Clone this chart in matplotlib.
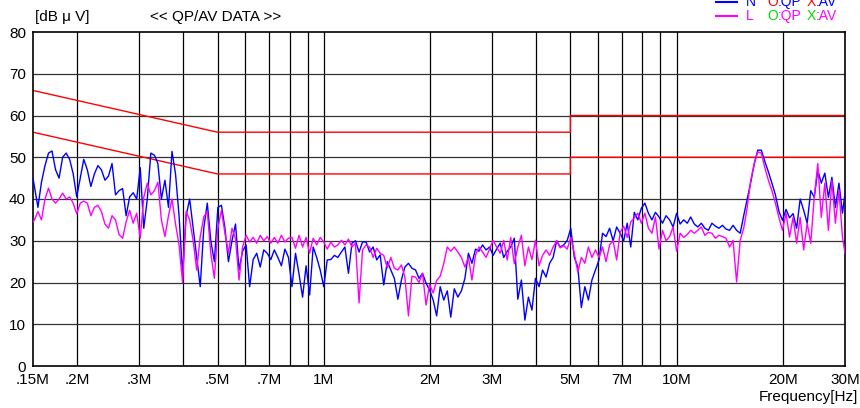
import matplotlib
matplotlib.use("Agg")
import matplotlib.pyplot as plt

plt.rcParams['font.family'] = ['Liberation Sans', 'DejaVu Sans']

# sweep frequencies [MHz]
freq = [0.150, 0.1514, 0.1549, 0.1585, 0.1622, 0.1660, 0.1698, 0.1738, 0.1778, 0.1820, 0.1862,
        0.1905, 0.1950, 0.1995, 0.2042, 0.2089, 0.2138, 0.2188, 0.2239, 0.2291, 0.2344,
        0.2399, 0.2455, 0.2512, 0.2570, 0.2630, 0.2692, 0.2754, 0.2818, 0.2884, 0.2951,
        0.3020, 0.3090, 0.3162, 0.3236, 0.3311, 0.3388, 0.3467, 0.3548, 0.3631, 0.3715,
        0.3802, 0.3890, 0.3981, 0.4074, 0.4169, 0.4266, 0.4365, 0.4467, 0.4571, 0.4677,
        0.4786, 0.4898, 0.5012, 0.5129, 0.5248, 0.5370, 0.5495, 0.5623, 0.5754, 0.5888,
        0.6026, 0.6166, 0.6310, 0.6457, 0.6607, 0.6761, 0.6918, 0.7079, 0.7244, 0.7413,
        0.7586, 0.7762, 0.7943, 0.8128, 0.8318, 0.8511, 0.8710, 0.8913, 0.9120, 0.9333,
        0.9550, 0.9772, 1.000, 1.023, 1.047, 1.072, 1.096, 1.122, 1.148, 1.175,
        1.202, 1.230, 1.259, 1.288, 1.318, 1.349, 1.380, 1.413, 1.445, 1.479,
        1.514, 1.549, 1.585, 1.622, 1.660, 1.698, 1.738, 1.778, 1.820, 1.862,
        1.905, 1.950, 1.995, 2.042, 2.089, 2.138, 2.188, 2.239, 2.291, 2.344,
        2.399, 2.455, 2.512, 2.570, 2.630, 2.692, 2.754, 2.818, 2.884, 2.951,
        3.020, 3.090, 3.162, 3.236, 3.311, 3.388, 3.467, 3.548, 3.631, 3.715,
        3.802, 3.890, 3.981, 4.074, 4.169, 4.266, 4.365, 4.467, 4.571, 4.677,
        4.786, 4.898, 5.012, 5.129, 5.248, 5.370, 5.495, 5.623, 5.754, 5.888,
        6.026, 6.166, 6.310, 6.457, 6.607, 6.761, 6.918, 7.079, 7.244, 7.413,
        7.586, 7.762, 7.943, 8.128, 8.318, 8.511, 8.710, 8.913, 9.120, 9.333,
        9.550, 9.772, 10.00, 10.23, 10.47, 10.72, 10.96, 11.22, 11.48, 11.75,
        12.02, 12.30, 12.59, 12.88, 13.18, 13.49, 13.80, 14.13, 14.45, 14.79,
        15.14, 15.49, 15.85, 16.22, 16.60, 16.98, 17.38, 17.78, 18.20, 18.62,
        19.05, 19.50, 19.95, 20.42, 20.89, 21.38, 21.88, 22.39, 22.91, 23.44,
        23.99, 24.55, 25.12, 25.70, 26.30, 26.92, 27.54, 28.18, 28.84, 29.51,
        30.00]

# N phase [dBuV]
level_n = [45, 43, 38, 44, 48, 51, 51.5, 47, 45, 50, 51,
           49.5, 46, 40.5, 45, 49.5, 47, 43, 46, 48, 47,
           44.5, 45.5, 48.5, 41, 42, 42.5, 36, 40.5, 41.5, 40,
           47.5, 33, 40, 51, 50.5, 48.5, 40, 44.5, 38, 51.4,
           46, 36, 22, 36, 40, 33, 26, 19, 33, 39,
           30, 25, 38, 38.5, 33, 25, 30, 34, 23, 27.5,
           29, 19, 25.5, 27, 23.7, 27.8, 27, 25.5, 27.8, 26,
           24, 28, 26, 19, 27, 22, 16.5, 24, 17, 28.5,
           26, 23, 19, 25.4, 25.5, 26.5, 26, 27.3, 28.5, 22.2,
           29.4, 30, 27.3, 29.7, 29.7, 27.3, 28.5, 25.4, 26.6, 19.4,
           25, 23, 21, 16, 20.6, 23.7, 24.6, 23.4, 23, 21,
           22.2, 19.8, 18.2, 15.8, 12, 19, 15.8, 18, 11.7, 18.5,
           16.5, 18, 21, 27, 24.6, 28, 27.5, 29, 27.8, 28.5,
           26.5, 28, 29.4, 26, 27.5, 28.5, 30.6, 16, 20.6, 11,
           16.5, 13.4, 21, 19, 23, 21.3, 24.6, 26, 30, 28.5,
           29, 30.1, 33, 26, 23.7, 14, 19, 15.8, 20.6, 23,
           25.4, 31.8, 31, 33, 30, 33.3, 31.8, 30, 34.2, 28.5,
           36.8, 35, 37.8, 39, 36.6, 35, 36.8, 35.7, 34.2, 36,
           35, 33.3, 36.6, 34, 35, 34.2, 35.7, 34, 33.3, 34.2,
           33, 32.5, 34.2, 33.5, 33, 33.7, 32.8, 32.5, 33.7, 32.5,
           31.8, 36, 40, 44, 48.5, 51.7, 51.7, 49, 46.5, 43.8,
           41, 37, 34.9, 37.5, 35.5, 36.5, 33, 40, 37.3, 34.2,
           42, 40.4, 46.9, 43.8, 46.2, 40.4, 45.2, 38, 43.8, 36.6,
           41.4]

# L phase [dBuV]
level_l = [34.5, 35, 37, 35, 40, 42.6, 40, 39, 40, 41.4, 40,
           40.5, 39, 36.5, 39, 39.5, 39, 36, 38, 38.5, 37,
           34, 33, 36, 35, 31.5, 30.6, 34.5, 37.3, 34.2, 36.6,
           30.6, 40.4, 43.8, 41, 42, 44, 35, 31, 36, 40,
           34, 29, 20, 37, 35, 30, 23, 31, 35.7, 37,
           27, 21, 33, 37.3, 31.8, 27, 33, 30.5, 20.6, 28.5,
           31.3, 29.7, 30.8, 29.4, 31.3, 30, 31, 29.4, 30.8, 29.4,
           31.3, 29.7, 30.6, 30.8, 28.2, 31.3, 28.5, 30.8, 27, 30.6,
           29, 30.8, 29.7, 28, 29.7, 28.5, 29, 30.1, 29, 30.4,
           28.5, 29.4, 15.1, 27.8, 29, 28.5, 26, 28.2, 27, 26.5,
           23.5, 26, 23.4, 23, 24.2, 21.3, 12, 21.5, 21.3, 20,
           22.2, 14.6, 19.5, 17.5, 20.5, 21.5, 24.5, 28.5, 27.5, 28.5,
           27.3, 26, 23.7, 26, 20.6, 26.6, 28.5, 27.3, 26, 28,
           30.1, 28.5, 27, 30.1, 25.4, 30.8, 24.5, 28.5, 31.3, 24,
           28.5, 25.5, 30.1, 24, 26.5, 27.8, 26.5, 28.5, 30, 28.3,
           28.8, 28, 30.8, 27, 22.5, 26, 24.6, 28.5, 26, 27.8,
           26, 28.5, 25, 29, 30, 25.4, 32, 33.5, 30.8, 34.5,
           35.5, 36.6, 34.2, 36.6, 33, 31.8, 35.7, 28, 32.5, 30,
           31, 33.3, 27.5, 31.8, 30.8, 31.5, 32.5, 31.8, 32.5, 33.3,
           31.3, 32, 31.8, 30.6, 31.3, 31, 30.6, 28.5, 30.1, 20.1,
           30.1, 33, 38, 44.5, 48.5, 51.3, 51, 47.5, 44.5, 42,
           39, 35.5, 32.5, 36.6, 30.9, 35.6, 29.4, 35.6, 27.8, 34.2,
           29.4, 40.4, 48.5, 35.6, 43.8, 32.5, 44.5, 34.2, 42.1, 30.9,
           27]

# limit lines
lim_f = [0.15, 0.5, 5, 5, 30]
lim_qp = [66, 56, 56, 60, 60]
lim_av = [56, 46, 46, 50, 50]

grid_f = [0.2, 0.3, 0.4, 0.5, 0.6, 0.7, 0.8, 0.9, 1, 2, 3, 4, 5, 6, 7, 8, 9, 10, 20]
tick_f = [0.15, 0.2, 0.3, 0.5, 0.7, 1, 2, 3, 5, 7, 10, 20, 30]
tick_lbl = ['.15M', '.2M', '.3M', '.5M', '.7M', '1M', '2M', '3M', '5M', '7M', '10M', '20M', '30M']

fig = plt.figure(figsize=(8.6, 4.08), dpi=100)
ax = fig.add_axes([33/860, 42/408, 812/860, 334/408])
ax.set_xscale('log')
ax.set_xlim(0.15, 30)
ax.set_ylim(0, 80)

for g in grid_f:
    ax.axvline(g, color='black', lw=0.9, zorder=1)
for y in range(10, 80, 10):
    ax.axhline(y, color='#333333', lw=0.9, zorder=1)

ax.plot(lim_f, lim_qp, color='#ff0000', lw=1, zorder=2)
ax.plot(lim_f, lim_av, color='#ff0000', lw=1, zorder=2)

ax.plot(freq, level_n, color='#0000ff', lw=1, zorder=3)
ax.plot(freq, level_l, color='#ff00ff', lw=1, zorder=4)

ax.set_xticks(tick_f)
ax.set_xticklabels(tick_lbl)
ax.xaxis.set_minor_locator(matplotlib.ticker.NullLocator())
ax.set_yticks(range(0, 81, 10))
ax.tick_params(length=0, labelsize=11, pad=5)
for s in ax.spines.values():
    s.set_linewidth(1.2)

fs = 11
fig.text(35/860, 1 - 17/408, '[dB \u03bc V]', fontsize=fs, va='center')
fig.text(150/860, 1 - 17/408, '<< QP/AV DATA >>', fontsize=fs, va='center')
fig.text(858/860, 1 - 397/408, 'Frequency[Hz]', fontsize=fs, va='center', ha='right')

# legend at top right, first row partly off the picture
lfs = 10
for yy, col, name, mk in [(2, '#0000ff', 'N', '#ff0000'), (16, '#ff00ff', 'L', '#00dd00')]:
    fig.add_artist(plt.Line2D([716/860, 737/860], [1 - yy/408, 1 - yy/408], color=col, lw=1.5))
    fig.text(746/860, 1 - yy/408, name, color=col, fontsize=lfs, va='center')
    fig.text(767/860, 1 - yy/408, 'O', color=mk, fontsize=lfs, va='center')
    fig.text(778/860, 1 - yy/408, ':QP', color=col, fontsize=lfs, va='center')
    fig.text(807/860, 1 - yy/408, 'X', color=mk, fontsize=lfs, va='center')
    fig.text(816/860, 1 - yy/408, ':AV', color=col, fontsize=lfs, va='center')

fig.savefig('out.png', dpi=100)
